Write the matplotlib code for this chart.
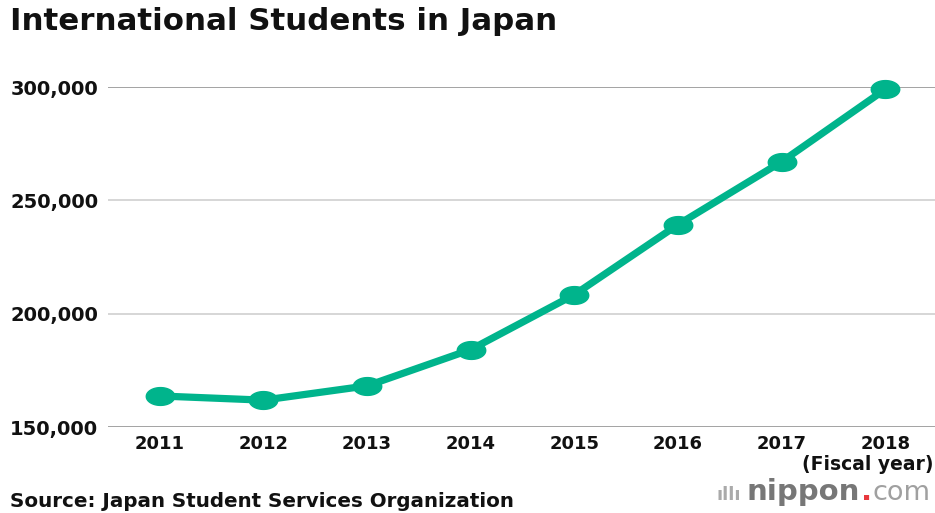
import matplotlib
matplotlib.use("Agg")
import matplotlib.pyplot as plt
from matplotlib.path import Path
import numpy as np

years = [2011, 2012, 2013, 2014, 2015, 2016, 2017, 2018]
students = [163697, 161848, 168145, 184155, 208379, 239287, 267042, 298980]
yticks = [150000, 200000, 250000, 300000]

green = "#00b48c"
plt.rcParams["font.family"] = ["DejaVu Sans"]

# wide ellipse marker (source image is stretched horizontally)
t = np.linspace(0, 2 * np.pi, 60)
ell = Path(np.column_stack([1.6 * np.cos(t), np.sin(t)]), closed=True)

fig = plt.figure(figsize=(9.35, 5.13), dpi=100)
ax = fig.add_axes([108 / 935, 1 - 427 / 513, 1 - 108 / 935, (427 - 87) / 513])

ax.plot(years, students, color=green, lw=5.2, marker=ell, ms=20.5,
        solid_capstyle="round", clip_on=False, zorder=3)

ax.set_xlim(2010.5, 2018.48)
ax.set_ylim(150000, 300000)
ax.set_yticks(yticks)
ax.set_yticklabels([f"{v:,}" for v in yticks])
ax.set_xticks(years)
ax.set_xticklabels([str(y) for y in years])

for v in yticks:
    c = "#8a8a8a" if v in (150000, 300000) else "#cccccc"
    ax.axhline(v, color=c, lw=1.1, zorder=1)

for s in ax.spines.values():
    s.set_visible(False)
ax.tick_params(length=0, colors="#111111")
ax.tick_params(axis="y", pad=7, labelsize=14)
ax.tick_params(axis="x", pad=6, labelsize=13)
for lab in ax.get_xticklabels() + ax.get_yticklabels():
    lab.set_fontweight("bold")

fig.text(10 / 935, 1 - 22 / 513, "International Students in Japan",
         fontsize=22.2, fontweight="bold", va="center", ha="left", color="#111111")
fig.text(934 / 935, 1 - 464 / 513, "(Fiscal year)", fontsize=13.5,
         fontweight="bold", va="center", ha="right", color="#111111")
fig.text(10 / 935, 1 - 507 / 513, "Source: Japan Student Services Organization",
         fontsize=14.3, fontweight="bold", va="baseline", ha="left", color="#111111")

# nippon.com logo, pieces placed one after another
fig.canvas.draw()
r = fig.canvas.get_renderer()
x = 716
y = 1 - 500 / 513
for txt, col, fw, fs, gap in [("ıllı", "#aaaaaa", "bold", 13, 6),
                              ("nippon", "#777777", "bold", 21, 1),
                              (".", "#e8383d", "bold", 21, 1),
                              ("com", "#a0a0a0", "normal", 19.5, 0)]:
    tt = fig.text(x / 935, y, txt, fontsize=fs, color=col, fontweight=fw,
                  va="baseline", ha="left")
    bb = tt.get_window_extent(r)
    x = bb.x1 + gap

fig.savefig("out.png", dpi=100)
